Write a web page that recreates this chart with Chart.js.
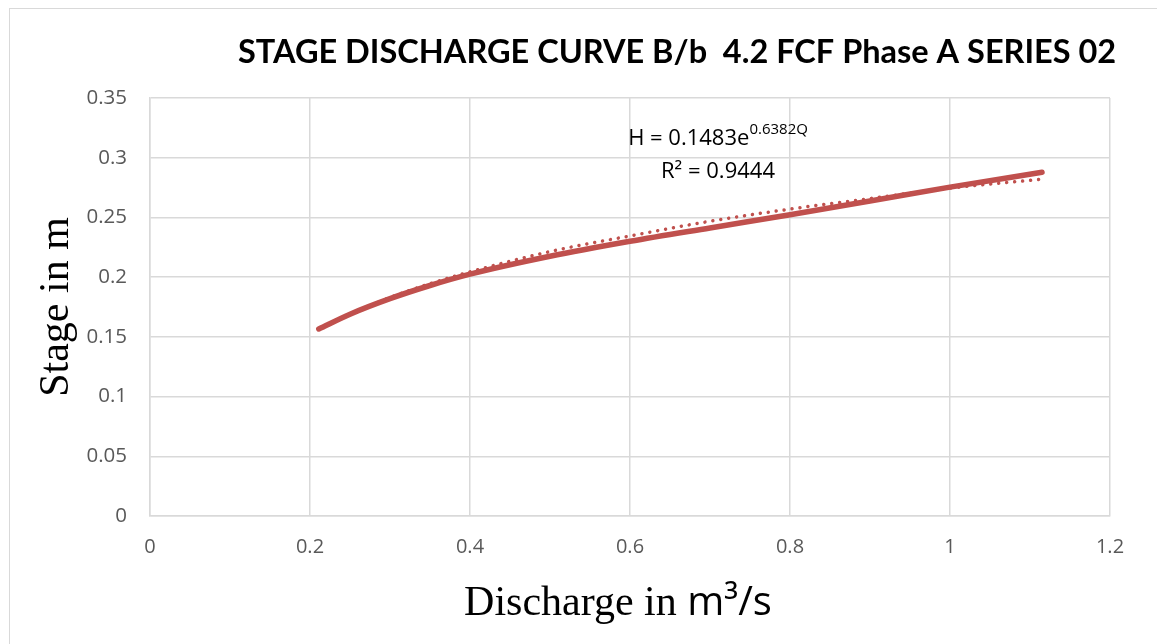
<!DOCTYPE html>
<html>
<head>
<meta charset="utf-8">
<title>Stage Discharge Curve</title>
<script src="https://cdn.jsdelivr.net/npm/chart.js@4.4.0/dist/chart.umd.min.js"></script>
<style>
  html, body { margin: 0; padding: 0; background: #ffffff; }
  #wrap { position: relative; width: 1157px; height: 644px; }
</style>
</head>
<body>
<div id="wrap"><canvas id="chart" width="1157" height="644"></canvas></div>
<script>
// Observed stage-discharge readings (Q in m³/s, H in m)
const discharge = [0.211, 0.25, 0.30, 0.35, 0.40, 0.50, 0.60, 0.70, 0.80, 0.90, 1.00, 1.115];
const stage     = [0.1566, 0.169, 0.182, 0.193, 0.2025, 0.2175, 0.230, 0.2412, 0.2522, 0.2637, 0.2754, 0.2878];

// Fitted trendline points
const trendQ = [0.213, 0.25, 0.30, 0.35, 0.40, 0.50, 0.60, 0.70, 0.80, 0.90, 1.00, 1.115];
const trendH = [0.157, 0.169, 0.183, 0.1945, 0.2044, 0.2214, 0.2345, 0.2468, 0.257, 0.2658, 0.2745, 0.282];

// Axis ticks
const xTicks = [0, 0.2, 0.4, 0.6, 0.8, 1, 1.2];
const yTicks = [0, 0.05, 0.1, 0.15, 0.2, 0.25, 0.3, 0.35];

const chartTitle = 'STAGE DISCHARGE CURVE B/b  4.2 FCF Phase A SERIES 02';
const eqMain = 'H = 0.1483e';
const eqExp = '0.6382Q';
const eqR2 = 'R² = 0.9444';

const RED = '#c0504d';
const GRID = '#d9d9d9';
const TICK = '#595959';

const observed = discharge.map((q, i) => ({ x: q, y: stage[i] }));
const trend = trendQ.map((q, i) => ({ x: q, y: trendH[i] }));

// Draws the frame, title, equation and axis titles
const decorations = {
  id: 'decorations',
  beforeDraw(chart) {
    const ctx = chart.ctx;
    ctx.save();
    ctx.fillStyle = '#ffffff';
    ctx.fillRect(0, 0, chart.width, chart.height);
    ctx.strokeStyle = GRID;
    ctx.lineWidth = 1;
    ctx.strokeRect(9.5, 8.5, chart.width + 10, chart.height + 10);
    ctx.restore();
  },
  afterDraw(chart) {
    const ctx = chart.ctx;
    const a = chart.chartArea;
    ctx.save();

    // Title
    ctx.fillStyle = '#000000';
    ctx.font = 'bold 32.5px Lato';
    ctx.textBaseline = 'alphabetic';
    ctx.textAlign = 'left';
    ctx.fillText(chartTitle, 238, 63);

    // Trendline equation
    ctx.font = '22px "Open Sans"';
    const wMain = ctx.measureText(eqMain).width;
    ctx.font = '15px "Open Sans"';
    const wExp = ctx.measureText(eqExp).width;
    const cx = 718;
    const x0 = cx - (wMain + wExp) / 2;
    ctx.font = '22px "Open Sans"';
    ctx.fillText(eqMain, x0, 145);
    ctx.font = '15px "Open Sans"';
    ctx.fillText(eqExp, x0 + wMain, 134);
    ctx.font = '22px "Open Sans"';
    ctx.textAlign = 'center';
    ctx.fillText(eqR2, cx, 178);

    // Y axis title
    ctx.save();
    ctx.translate(68, (a.top + a.bottom) / 2);
    ctx.rotate(-Math.PI / 2);
    ctx.font = '42px "Liberation Serif"';
    ctx.textAlign = 'center';
    ctx.fillText('Stage in m', 0, 0);
    ctx.restore();

    // X axis title (serif words, sans unit)
    const p1 = 'Discharge in ';
    const p2 = 'm³/s';
    ctx.textAlign = 'left';
    ctx.font = '42px "Liberation Serif"';
    const w1 = ctx.measureText(p1).width;
    ctx.font = '40px "Open Sans"';
    const w2 = ctx.measureText(p2).width;
    const sx = (a.left + a.right) / 2 - (w1 + w2) / 2 - 12;
    ctx.font = '42px "Liberation Serif"';
    ctx.fillText(p1, sx, 615);
    ctx.font = '40px "Open Sans"';
    ctx.fillText(p2, sx + w1, 615);

    ctx.restore();
  }
};

new Chart(document.getElementById('chart'), {
  type: 'scatter',
  data: {
    datasets: [
      {
        label: 'Trendline',
        data: trend,
        showLine: true,
        borderColor: RED,
        borderWidth: 3.5,
        borderDash: [0.01, 8],
        borderCapStyle: 'round',
        pointRadius: 0,
        cubicInterpolationMode: 'monotone',
        order: 2
      },
      {
        label: 'Observed',
        data: observed,
        showLine: true,
        borderColor: RED,
        borderWidth: 5.5,
        borderCapStyle: 'round',
        pointRadius: 0,
        cubicInterpolationMode: 'monotone',
        order: 1
      }
    ]
  },
  options: {
    responsive: false,
    animation: false,
    events: [],
    layout: { padding: { left: 0, right: 47, top: 98, bottom: 0 } },
    plugins: {
      legend: { display: false },
      title: { display: false },
      tooltip: { enabled: false }
    },
    scales: {
      x: {
        type: 'linear',
        min: 0,
        max: 1.2,
        afterBuildTicks(scale) { scale.ticks = xTicks.map(v => ({ value: v })); },
        afterFit(scale) { scale.height = 128; },
        grid: { color: GRID, lineWidth: 1.5, drawTicks: false },
        border: { color: GRID, width: 1.5 },
        ticks: {
          color: TICK,
          padding: 19,
          maxRotation: 0,
          font: { family: '"Open Sans"', size: 20 },
          callback: v => String(v)
        }
      },
      y: {
        type: 'linear',
        min: 0,
        max: 0.35,
        afterBuildTicks(scale) { scale.ticks = yTicks.map(v => ({ value: v })); },
        afterFit(scale) { scale.width = 150; },
        grid: { color: GRID, lineWidth: 1.5, drawTicks: false },
        border: { color: GRID, width: 1.5 },
        ticks: {
          color: TICK,
          padding: 23,
          font: { family: '"Open Sans"', size: 20.5 },
          callback: v => String(v)
        }
      }
    }
  },
  plugins: [decorations]
});
</script>
</body>
</html>
